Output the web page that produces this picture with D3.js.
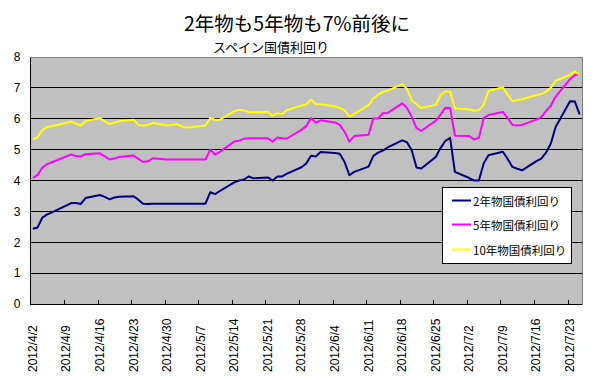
<!DOCTYPE html>
<html><head><meta charset="utf-8">
<script src="https://cdn.jsdelivr.net/npm/d3@7/dist/d3.min.js"></script>
<style>body{margin:0;background:#fff}svg{display:block}</style>
</head><body><svg id="c" width="600" height="380"></svg>
<script>
const title1 = "2年物も5年物も7%前後に";
const title2 = "スペイン国債利回り";
const seriesNames = ["2年物国債利回り", "5年物国債利回り", "10年物国債利回り"];
const seriesColors = ["#000080", "#FF00FF", "#FFFF00"];

const dates = [
 "4/2","4/3","4/4","4/5","4/6",
 "4/9","4/10","4/11","4/12","4/13",
 "4/16","4/17","4/18","4/19","4/20",
 "4/23","4/24","4/25","4/26","4/27",
 "4/30","5/1","5/2","5/3","5/4",
 "5/7","5/8","5/9","5/10","5/11",
 "5/14","5/15","5/16","5/17","5/18",
 "5/21","5/22","5/23","5/24","5/25",
 "5/28","5/29","5/30","5/31","6/1",
 "6/4","6/5","6/6","6/7","6/8",
 "6/11","6/12","6/13","6/14","6/15",
 "6/18","6/19","6/20","6/21","6/22",
 "6/25","6/26","6/27","6/28","6/29",
 "7/2","7/3","7/4","7/5","7/6",
 "7/9","7/10","7/11","7/12","7/13",
 "7/16","7/17","7/18","7/19","7/20",
 "7/23","7/24","7/25"
];

const yield2 = [
 2.44,2.48,2.80,2.90,2.97,
 3.19,3.27,3.27,3.24,3.43,
 3.53,3.47,3.39,3.45,3.47,
 3.49,3.38,3.25,3.24,3.25,
 3.25,3.25,3.25,3.25,3.25,
 3.25,3.25,3.62,3.56,3.66,
 3.94,4.00,4.03,4.13,4.07,
 4.10,4.00,4.13,4.13,4.22,
 4.43,4.55,4.80,4.78,4.92,
 4.89,4.87,4.60,4.17,4.28,
 4.45,4.80,4.90,4.97,5.07,
 5.30,5.24,4.98,4.42,4.39,
 4.76,5.05,5.28,5.38,4.28,
 4.08,4.00,4.00,4.55,4.82,
 4.93,4.70,4.44,4.38,4.33,
 4.63,4.71,4.90,5.20,5.73,
 6.57,6.56,6.14
];

const yield5 = [
 4.08,4.18,4.42,4.53,4.59,
 4.78,4.84,4.79,4.78,4.85,
 4.88,4.78,4.68,4.71,4.76,
 4.81,4.70,4.60,4.62,4.72,
 4.68,4.68,4.68,4.68,4.68,
 4.68,4.68,5.00,4.84,4.93,
 5.26,5.29,5.35,5.37,5.37,
 5.37,5.26,5.39,5.37,5.36,
 5.64,5.76,6.02,5.87,5.95,
 5.88,5.80,5.58,5.26,5.44,
 5.48,6.01,6.02,6.18,6.19,
 6.50,6.36,6.06,5.70,5.61,
 5.93,6.13,6.36,6.35,5.45,
 5.44,5.33,5.38,6.02,6.12,
 6.22,6.02,5.80,5.78,5.80,
 5.97,6.05,6.25,6.42,6.72,
 7.28,7.42,7.45
];

const yield10 = [
 5.33,5.40,5.63,5.73,5.76,
 5.87,5.91,5.84,5.78,5.93,
 6.02,5.92,5.83,5.87,5.92,
 5.97,5.80,5.78,5.80,5.86,
 5.78,5.80,5.83,5.75,5.72,
 5.76,5.78,6.02,5.97,5.97,
 6.25,6.29,6.27,6.22,6.21,
 6.22,6.10,6.18,6.15,6.28,
 6.43,6.46,6.62,6.48,6.47,
 6.40,6.35,6.27,6.08,6.16,
 6.44,6.66,6.78,6.87,6.91,
 7.12,6.97,6.60,6.47,6.35,
 6.45,6.76,6.88,6.88,6.34,
 6.30,6.26,6.28,6.45,6.90,
 7.02,6.78,6.57,6.61,6.63,
 6.76,6.80,6.88,7.00,7.23,
 7.42,7.53,7.43
];

const tickLabels = ["4/2","4/9","4/16","4/23","4/30","5/7","5/14","5/21","5/28","6/4","6/11","6/18","6/25","7/2","7/9","7/16","7/23"];
const yTicks = [0,1,2,3,4,5,6,7,8];
const domainDates = ["4/2","7/26"];

const parse = s => d3.timeParse("%Y/%m/%d")("2012/" + s);
const mid = d => d3.timeHour.offset(d, 12);

const svg = d3.select("#c");
const L = 30.4, R = 582, T = 57, B = 304;

const x = d3.scaleTime().domain(domainDates.map(parse)).range([L, R]);
const y = d3.scaleLinear().domain([0, 8]).range([B, T]);

// plot area
svg.append("rect").attr("x", L).attr("y", T).attr("width", R - L).attr("height", B - T)
  .attr("fill", "#C0C0C0").attr("stroke", "#808080").attr("stroke-width", 1)
  .attr("shape-rendering", "crispEdges");

// gridlines
svg.append("g").selectAll("line").data(yTicks.filter(v => v > 0 && v < 8)).join("line")
  .attr("x1", L).attr("x2", R).attr("y1", d => y(d)).attr("y2", d => y(d))
  .attr("stroke", "#000").attr("stroke-width", 1).attr("shape-rendering", "crispEdges");

// y axis
const yAxis = d3.axisLeft(y).tickValues(yTicks).tickSize(0).tickPadding(10).tickFormat(d3.format("d"));
const gy = svg.append("g").attr("transform", `translate(${L},0)`).call(yAxis);
gy.select(".domain").attr("stroke", "#000").attr("shape-rendering", "crispEdges");
gy.selectAll("text").attr("font-family", "'Liberation Sans', Arial, sans-serif").attr("font-size", 12).attr("fill", "#000");

// x axis ticks (inside)
const tickDates = tickLabels.map(parse);
const xAxis = d3.axisTop(x).tickValues(tickDates).tickSize(4).tickFormat("");
const gx = svg.append("g").attr("transform", `translate(0,${B})`).call(xAxis);
gx.select(".domain").remove();
gx.selectAll("line").attr("stroke", "#000").attr("shape-rendering", "crispEdges");
svg.append("line").attr("x1", L).attr("x2", R).attr("y1", B).attr("y2", B)
  .attr("stroke", "#000").attr("shape-rendering", "crispEdges");

// x labels (rotated)
svg.append("g").selectAll("text").data(tickLabels).join("text")
  .attr("transform", d => `translate(${x(mid(parse(d)))},372) rotate(-90)`)
  .attr("text-anchor", "start").attr("dominant-baseline", "central")
  .attr("font-family", "'Liberation Sans', Arial, sans-serif").attr("font-size", 12)
  .text(d => "2012/" + d);

// lines
const parsed = dates.map(parse);
const line = d3.line().x((d, i) => x(mid(parsed[i]))).y(d => y(d));
[yield2, yield5, yield10].forEach((s, k) => {
  svg.append("path").datum(s).attr("d", line).attr("fill", "none")
    .attr("stroke", seriesColors[k]).attr("stroke-width", 2).attr("stroke-linejoin", "round");
});

// titles
svg.append("text").attr("x", 297).attr("y", 22).attr("text-anchor", "middle")
  .attr("dominant-baseline", "central").attr("font-family", "'Noto Sans CJK JP', sans-serif")
  .attr("font-size", 19.5).text(title1);
svg.append("text").attr("x", 271).attr("y", 46).attr("text-anchor", "middle")
  .attr("dominant-baseline", "central").attr("font-family", "'Noto Sans CJK JP', sans-serif")
  .attr("font-size", 13).text(title2);

// legend
const lg = svg.append("g");
lg.append("rect").attr("x", 442.5).attr("y", 187.5).attr("width", 129).attr("height", 76)
  .attr("fill", "#fff").attr("stroke", "#000").attr("stroke-width", 1);
const ly = [200.5, 224.5, 249.5];
seriesNames.forEach((n, i) => {
  lg.append("line").attr("x1", 452).attr("x2", 471).attr("y1", ly[i]).attr("y2", ly[i])
    .attr("stroke", seriesColors[i]).attr("stroke-width", 2);
  lg.append("text").attr("x", 473).attr("y", ly[i]).attr("dominant-baseline", "central")
    .attr("font-family", "'Noto Sans CJK JP', sans-serif").attr("font-size", 11.5).text(n);
});
</script></body></html>
